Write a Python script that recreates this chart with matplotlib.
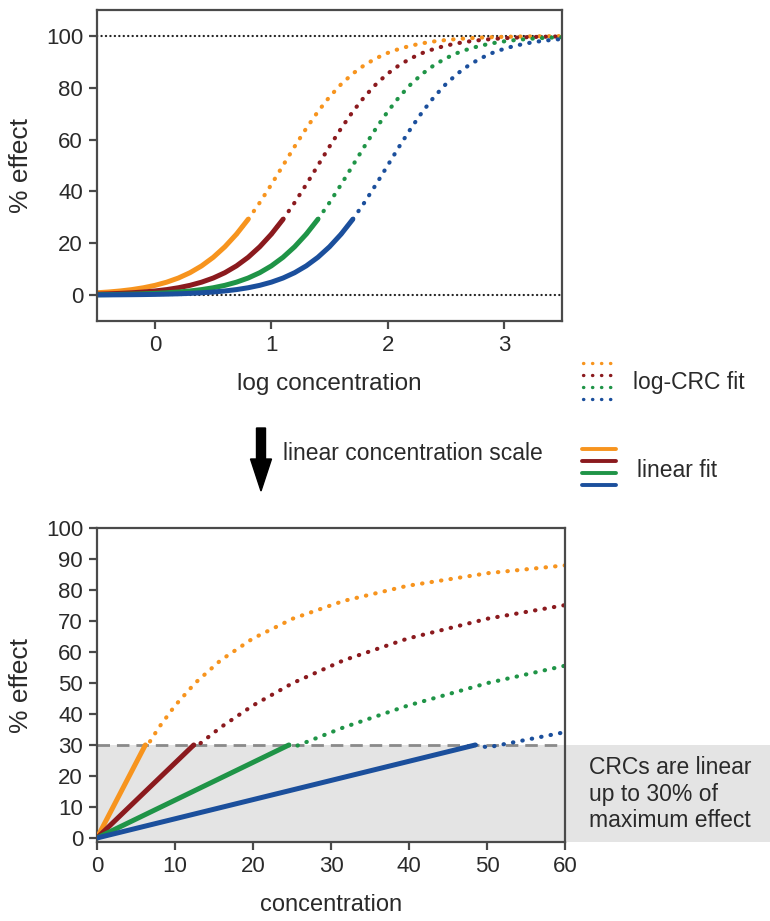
import numpy as np
import matplotlib
matplotlib.use('Agg')
import matplotlib.pyplot as plt
from matplotlib.lines import Line2D
from matplotlib.patches import Rectangle, FancyArrow

plt.rcParams['font.family'] = ['Liberation Sans', 'DejaVu Sans']

# log concentration grid (x of the upper panel)
log_conc = [-0.5, -0.4, -0.3, -0.2, -0.1, 0.0, 0.1, 0.2, 0.3, 0.4,
            0.5, 0.6, 0.7, 0.8, 0.9, 1.0, 1.1, 1.2, 1.3, 1.4,
            1.5, 1.6, 1.7, 1.8, 1.9, 2.0, 2.1, 2.2, 2.3, 2.4,
            2.5, 2.6, 2.7, 2.8, 2.9, 3.0, 3.1, 3.2, 3.3, 3.4, 3.5]

# % effect
effect_orange = [0.89, 1.19, 1.59, 2.12, 2.83, 3.76, 4.99, 6.58, 8.64, 11.27,
                 14.57, 18.64, 23.52, 29.23, 35.68, 42.68, 50.0, 57.32, 64.32, 70.77,
                 76.48, 81.36, 85.43, 88.73, 91.36, 93.42, 95.01, 96.24, 97.17, 97.88,
                 98.41, 98.81, 99.11, 99.34, 99.51, 99.63, 99.73, 99.80, 99.85, 99.89, 99.92]
effect_red = [0.37, 0.49, 0.66, 0.89, 1.19, 1.59, 2.12, 2.83, 3.76, 4.99,
              6.58, 8.64, 11.27, 14.57, 18.64, 23.52, 29.23, 35.68, 42.68, 50.0,
              57.32, 64.32, 70.77, 76.48, 81.36, 85.43, 88.73, 91.36, 93.42, 95.01,
              96.24, 97.17, 97.88, 98.41, 98.81, 99.11, 99.34, 99.51, 99.63, 99.73, 99.80]
effect_green = [0.15, 0.20, 0.27, 0.37, 0.49, 0.66, 0.89, 1.19, 1.59, 2.12,
                2.83, 3.76, 4.99, 6.58, 8.64, 11.27, 14.57, 18.64, 23.52, 29.23,
                35.68, 42.68, 50.0, 57.32, 64.32, 70.77, 76.48, 81.36, 85.43, 88.73,
                91.36, 93.42, 95.01, 96.24, 97.17, 97.88, 98.41, 98.81, 99.11, 99.34, 99.51]
effect_blue = [0.06, 0.08, 0.11, 0.15, 0.20, 0.27, 0.37, 0.49, 0.66, 0.89,
               1.19, 1.59, 2.12, 2.83, 3.76, 4.99, 6.58, 8.64, 11.27, 14.57,
               18.64, 23.52, 29.23, 35.68, 42.68, 50.0, 57.32, 64.32, 70.77, 76.48,
               81.36, 85.43, 88.73, 91.36, 93.42, 95.01, 96.24, 97.17, 97.88, 98.41, 98.81]

# concentration where each linear fit reaches 30 %
fit_end_conc = [6.2, 12.4, 24.6, 48.5]
linear_limit = 30

colors = ['#F7941E', '#8B1A1E', '#1F9447', '#1B4F9C']
curves = [effect_orange, effect_red, effect_green, effect_blue]

W, H = 770, 921
fig = plt.figure(figsize=(W / 100, H / 100), dpi=100)
txt = '#2a2a2a'

def fx(px):
    return px / W

def fy(py):
    return 1 - py / H

def style_axes(ax):
    for s in ax.spines.values():
        s.set_color('#4a4a4a')
        s.set_linewidth(1.6)
    ax.tick_params(direction='out', length=6, width=1.6, color='#4a4a4a',
                   labelsize=16, labelcolor=txt, pad=4)

dots = (0, (0.1, 2.2))

# ---- upper panel: log scale
ax1 = fig.add_axes([fx(97), fy(321), fx(562) - fx(97), fy(10) - fy(321)])
style_axes(ax1)
ax1.axhline(100, color='#222222', lw=1.6, ls=(0, (0.1, 1.9)), dash_capstyle='round')
ax1.axhline(0, color='#222222', lw=1.6, ls=(0, (0.1, 1.9)), dash_capstyle='round')
x = np.array(log_conc)
for y, c in zip(curves, colors):
    y = np.array(y)
    # dotted part continues from the last point under the linear range (hidden by the solid)
    start = int(np.argmax(y >= linear_limit - 1)) - 1
    ax1.plot(x[start:], y[start:], color=c, lw=3.0, ls=dots, dash_capstyle='round')
    m = y <= linear_limit
    ax1.plot(x[m], y[m], color=c, lw=3.6, solid_capstyle='round')
ax1.set_xlim(-0.5, 3.5)
ax1.set_ylim(-10, 110)
ax1.set_xticks([0, 1, 2, 3])
ax1.set_yticks([0, 20, 40, 60, 80, 100])
ax1.set_xlabel('log concentration', fontsize=17.5, color=txt, labelpad=12)
ax1.set_ylabel('% effect', fontsize=19, color=txt)
ax1.yaxis.set_label_coords(-0.138, 0.5)

# ---- lower panel: linear scale
ax2 = fig.add_axes([fx(97), fy(842), fx(565) - fx(97), fy(528) - fy(842)])
style_axes(ax2)
ax2.set_xlim(0, 60)
ax2.set_ylim(-1.3, 100)
ax2.add_patch(Rectangle((0, -1.3), 87, linear_limit + 1.3, facecolor='#e4e4e4',
                        edgecolor='none', clip_on=False, zorder=0))
ax2.axhline(linear_limit, color='#8a8a8a', lw=2, ls=(0, (4.5, 2.5)), zorder=1)
conc = 10 ** x
for y, c, end in zip(curves, colors, fit_end_conc):
    y = np.array(y)
    m = y >= linear_limit - 1
    # dotted CRC starts where the linear fit ends
    ax2.plot(np.concatenate([[end], conc[m]]), np.concatenate([[linear_limit], y[m]]),
             color=c, lw=3.0, ls=dots, dash_capstyle='round', zorder=2)
    ax2.plot([0, end], [0, linear_limit], color=c, lw=3.6, solid_capstyle='round', zorder=3)
ax2.set_xticks([0, 10, 20, 30, 40, 50, 60])
ax2.set_yticks(range(0, 101, 10))
ax2.set_xlabel('concentration', fontsize=17, color=txt, labelpad=12)
ax2.set_ylabel('% effect', fontsize=19, color=txt)
ax2.yaxis.set_label_coords(-0.137, 0.5)

fig.text(fx(589), fy(794), 'CRCs are linear\nup to 30% of\nmaximum effect',
         fontsize=16.5, color=txt, va='center', ha='left', linespacing=1.2)

# ---- legend and arrow between the panels
for i, c in enumerate(colors):
    yy = fy(363 + i * 12)
    fig.add_artist(Line2D([fx(583), fx(613)], [yy, yy], color=c, lw=2.4,
                          ls=(0, (0.1, 2.6)), dash_capstyle='round', transform=fig.transFigure))
    yy = fy(449 + i * 12)
    fig.add_artist(Line2D([fx(582), fx(616)], [yy, yy], color=c, lw=2.8,
                          solid_capstyle='round', transform=fig.transFigure))
fig.text(fx(633), fy(383), 'log-CRC fit', fontsize=16.5, color=txt, va='center')
fig.text(fx(637), fy(470), 'linear fit', fontsize=16.5, color=txt, va='center')

fig.add_artist(FancyArrow(fx(261), fy(428), 0, fy(491) - fy(428), width=9 / W,
                          head_width=21 / W, head_length=32 / H, length_includes_head=True,
                          color='black', transform=fig.transFigure))
fig.text(fx(283), fy(453), 'linear concentration scale', fontsize=16.5,
         color=txt, va='center')

fig.savefig('out.png', dpi=100)
